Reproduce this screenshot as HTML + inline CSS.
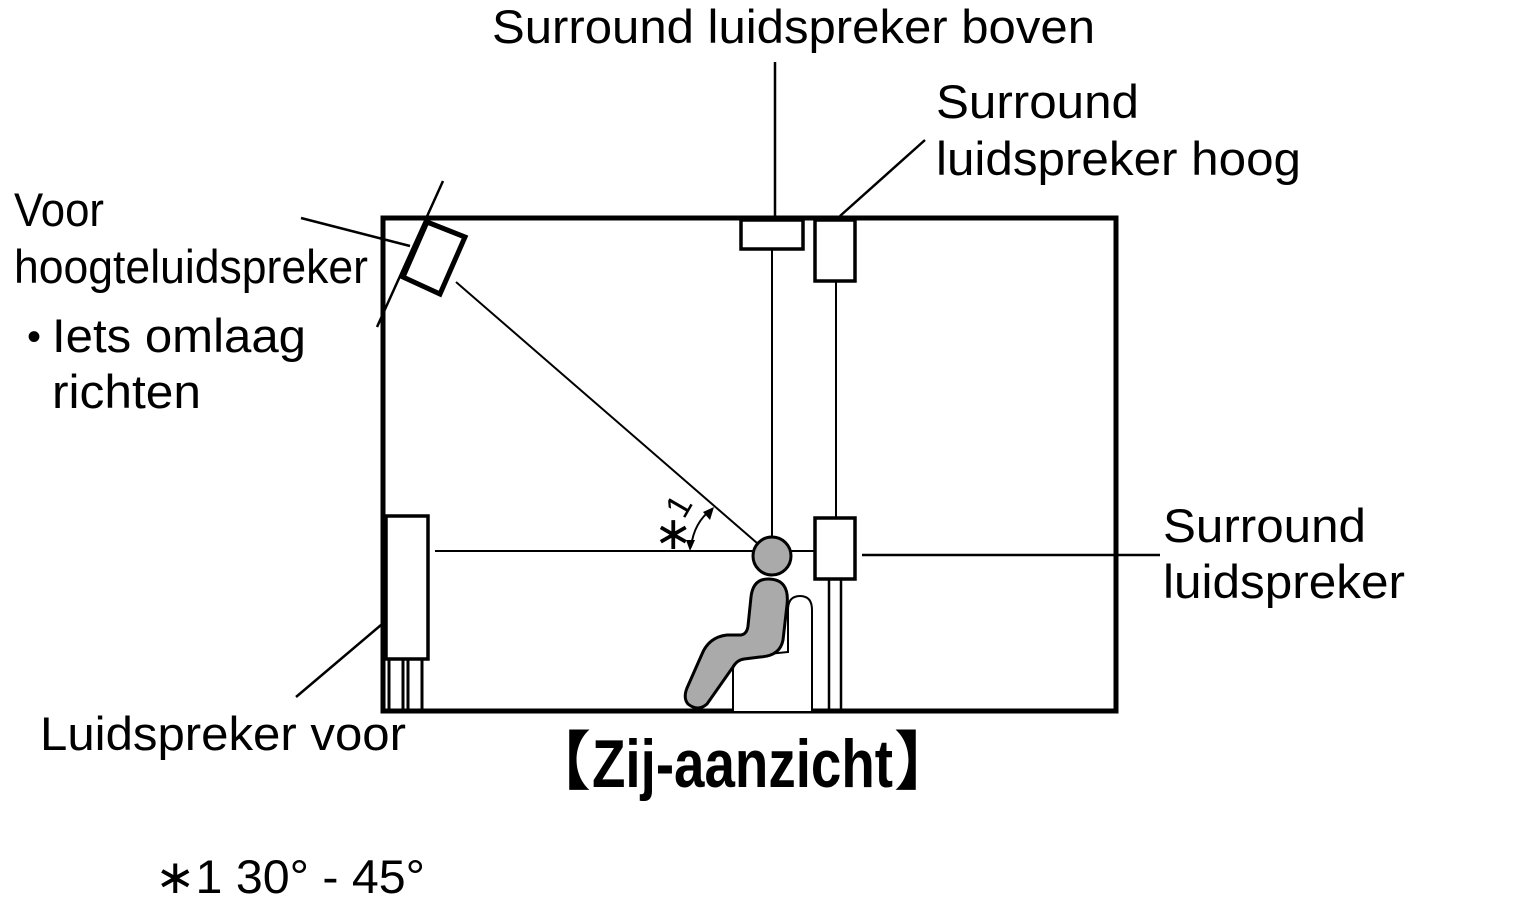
<!DOCTYPE html>
<html><head><meta charset="utf-8"><style>
html,body{margin:0;padding:0;background:#fff;}
svg{display:block;}
text{font-family:"Liberation Sans","Noto Sans CJK JP",sans-serif;fill:#000;}
</style></head><body>
<svg width="1525" height="923" viewBox="0 0 1525 923" xmlns="http://www.w3.org/2000/svg">
<g fill="none" stroke="#000">
<rect x="383" y="218" width="733" height="493" stroke-width="5"/>
<polygon points="427,222 465,237 440,294 403,277" stroke-width="5" fill="#fff"/>
<line x1="443" y1="181" x2="377" y2="327" stroke-width="2.5"/>
<line x1="301" y1="218" x2="410" y2="246" stroke-width="2.5"/>
<line x1="456" y1="282" x2="757" y2="543" stroke-width="2"/>
<rect x="386" y="516" width="42" height="143" stroke-width="3.5" fill="#fff"/>
<line x1="389" y1="659" x2="389" y2="711" stroke-width="3"/>
<line x1="403" y1="659" x2="403" y2="711" stroke-width="3"/>
<line x1="408" y1="659" x2="408" y2="711" stroke-width="3"/>
<line x1="422" y1="659" x2="422" y2="711" stroke-width="3"/>
<line x1="296" y1="697" x2="381" y2="625" stroke-width="2.5"/>
<line x1="435" y1="551" x2="756" y2="551" stroke-width="2"/>
<line x1="790" y1="551" x2="815" y2="551" stroke-width="2"/>
<rect x="741" y="220" width="62" height="29" stroke-width="3.5" fill="#fff"/>
<line x1="775" y1="62" x2="775" y2="220" stroke-width="2.5"/>
<line x1="772" y1="249" x2="772" y2="537" stroke-width="2"/>
<rect x="815" y="220" width="40" height="61" stroke-width="3.5" fill="#fff"/>
<line x1="840" y1="216" x2="925" y2="140" stroke-width="2.5"/>
<line x1="836" y1="281" x2="836" y2="518" stroke-width="2"/>
<rect x="815" y="518" width="40" height="61" stroke-width="3.5" fill="#fff"/>
<line x1="829" y1="579" x2="829" y2="711" stroke-width="2.5"/>
<line x1="841" y1="579" x2="841" y2="711" stroke-width="2.5"/>
<line x1="862" y1="555" x2="1160" y2="555" stroke-width="2.5"/>
<path d="M733,711 V670 Q733,658 748,656 L788,652 V610 Q788,596 800,596 Q812,596 812,610 V711" stroke-width="2" fill="#fff"/>
<path d="M768,579 Q790,579 787,605 L783,640 Q780,656 760,657 L744,659 Q737,660 733,667 L707,704 Q698,712 688,704 Q683,698 687,688 L702,654 Q709,637 727,635 L741,635 Q747,634 748,626 L751,597 Q753,579 768,579 Z" stroke-width="3" fill="#aaa"/>
<circle cx="772" cy="556" r="19" stroke-width="3" fill="#aaa"/>
<path d="M691,547 Q694,522 712,509" stroke-width="2"/>
</g>
<polygon points="714,507 703,512 710,520" fill="#000"/>
<polygon points="690,551 686,540 695,540" fill="#000"/>
<text x="654" y="549" font-size="46">∗</text>
<text x="0" y="0" font-size="34" transform="translate(684,520) rotate(-60)">1</text>
<text x="492" y="43" font-size="47" textLength="603" lengthAdjust="spacingAndGlyphs">Surround luidspreker boven</text>
<text x="936" y="118" font-size="47" textLength="203" lengthAdjust="spacingAndGlyphs">Surround</text>
<text x="936" y="175" font-size="47" textLength="365" lengthAdjust="spacingAndGlyphs">luidspreker hoog</text>
<text x="14" y="226" font-size="47" textLength="90" lengthAdjust="spacingAndGlyphs">Voor</text>
<text x="14" y="283" font-size="47" textLength="354" lengthAdjust="spacingAndGlyphs">hoogteluidspreker</text>
<text x="27" y="350" font-size="40">•</text>
<text x="52" y="352" font-size="47" textLength="254" lengthAdjust="spacingAndGlyphs">Iets omlaag</text>
<text x="52" y="408" font-size="47" textLength="149" lengthAdjust="spacingAndGlyphs">richten</text>
<text x="1163" y="542" font-size="47" textLength="203" lengthAdjust="spacingAndGlyphs">Surround</text>
<text x="1163" y="598" font-size="47" textLength="242" lengthAdjust="spacingAndGlyphs">luidspreker</text>
<text x="40" y="750" font-size="47" textLength="366" lengthAdjust="spacingAndGlyphs">Luidspreker voor</text>
<text x="527" y="784" font-size="64" font-weight="bold">【</text>
<text x="592" y="787" font-size="68" font-weight="bold" textLength="301" lengthAdjust="spacingAndGlyphs">Zij-aanzicht</text>
<text x="894" y="784" font-size="64" font-weight="bold">】</text>
<text x="155" y="893" font-size="47" textLength="270" lengthAdjust="spacingAndGlyphs">∗1 30° - 45°</text>
</svg>
</body></html>
